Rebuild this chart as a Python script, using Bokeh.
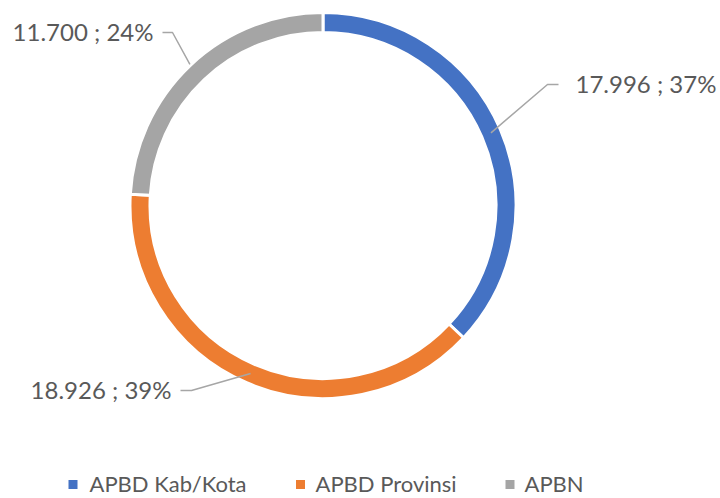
import math
from bokeh.plotting import figure
from bokeh.models import Range1d
from bokeh.core.properties import value
from bokeh.embed import file_html
from bokeh.resources import INLINE

categories = ["APBD Kab/Kota", "APBD Provinsi", "APBN"]
values = [17996, 18926, 11700]
colors = ["#4472C4", "#ED7D31", "#A5A5A5"]

W, H = 720, 498
p = figure(width=W, height=H, output_backend="svg", toolbar_location=None,
           x_range=Range1d(0, W), y_range=Range1d(0, H),
           min_border=0, outline_line_color=None)
p.axis.visible = False
p.grid.visible = False
p.background_fill_color = "white"
p.border_fill_color = "white"

def Y(y):
    return 498 - y

cx, cy = 322.5, Y(205)
r_out, r_in = 193, 173
FONT = value("Lato")
TXT = "#595959"

total = sum(values)
starts, ends, mids = [], [], []
a = 90.0
for v in values:
    sweep = v / total * 360.0
    starts.append(a - sweep)
    ends.append(a)
    mids.append(a - sweep / 2)
    a -= sweep

p.annular_wedge(x=cx, y=cy, inner_radius=r_in, outer_radius=r_out,
                start_angle=[math.radians(s) for s in starts],
                end_angle=[math.radians(e) for e in ends],
                fill_color=colors, line_color="white", line_width=3)

labels = [f"{v:,}".replace(",", ".") + f" ; {round(v / total * 100)}%" for v in values]

# leader line layout: (radius of start, elbow point, end point, text x, text align, text y)
layout = [
    (183, (547, 84), (558, 84), 575, "left", 83),
    (183, (191, 390), (180, 390), 171, "right", 389),
    (194, (172, 32), (162, 32), 153, "right", 31),
]
for i, (rr, elbow, end, tx, align, ty) in enumerate(layout):
    ang = math.radians(mids[i])
    sx = cx + rr * math.cos(ang)
    sy = cy + rr * math.sin(ang)
    p.line([sx, elbow[0], end[0]], [sy, Y(elbow[1]), Y(end[1])],
           line_color="#A6A6A6", line_width=1.5)
    p.text(x=[tx], y=[Y(ty)], text=[labels[i]], text_font=FONT,
           text_font_size="24px", text_color=TXT, text_align=align,
           text_baseline="middle")

# legend
sq_x = [72.5, 300, 509.5]
tx_x = [89, 315, 524]
ly = Y(483)
p.scatter(x=sq_x, y=[Y(484)] * 3, marker="square", size=9, fill_color=colors, line_color=None)
p.text(x=tx_x, y=[ly] * 3, text=categories, text_font=FONT, text_font_size="22px",
       text_color=TXT, text_baseline="middle")

open("out.html", "w").write(file_html(p, INLINE))
